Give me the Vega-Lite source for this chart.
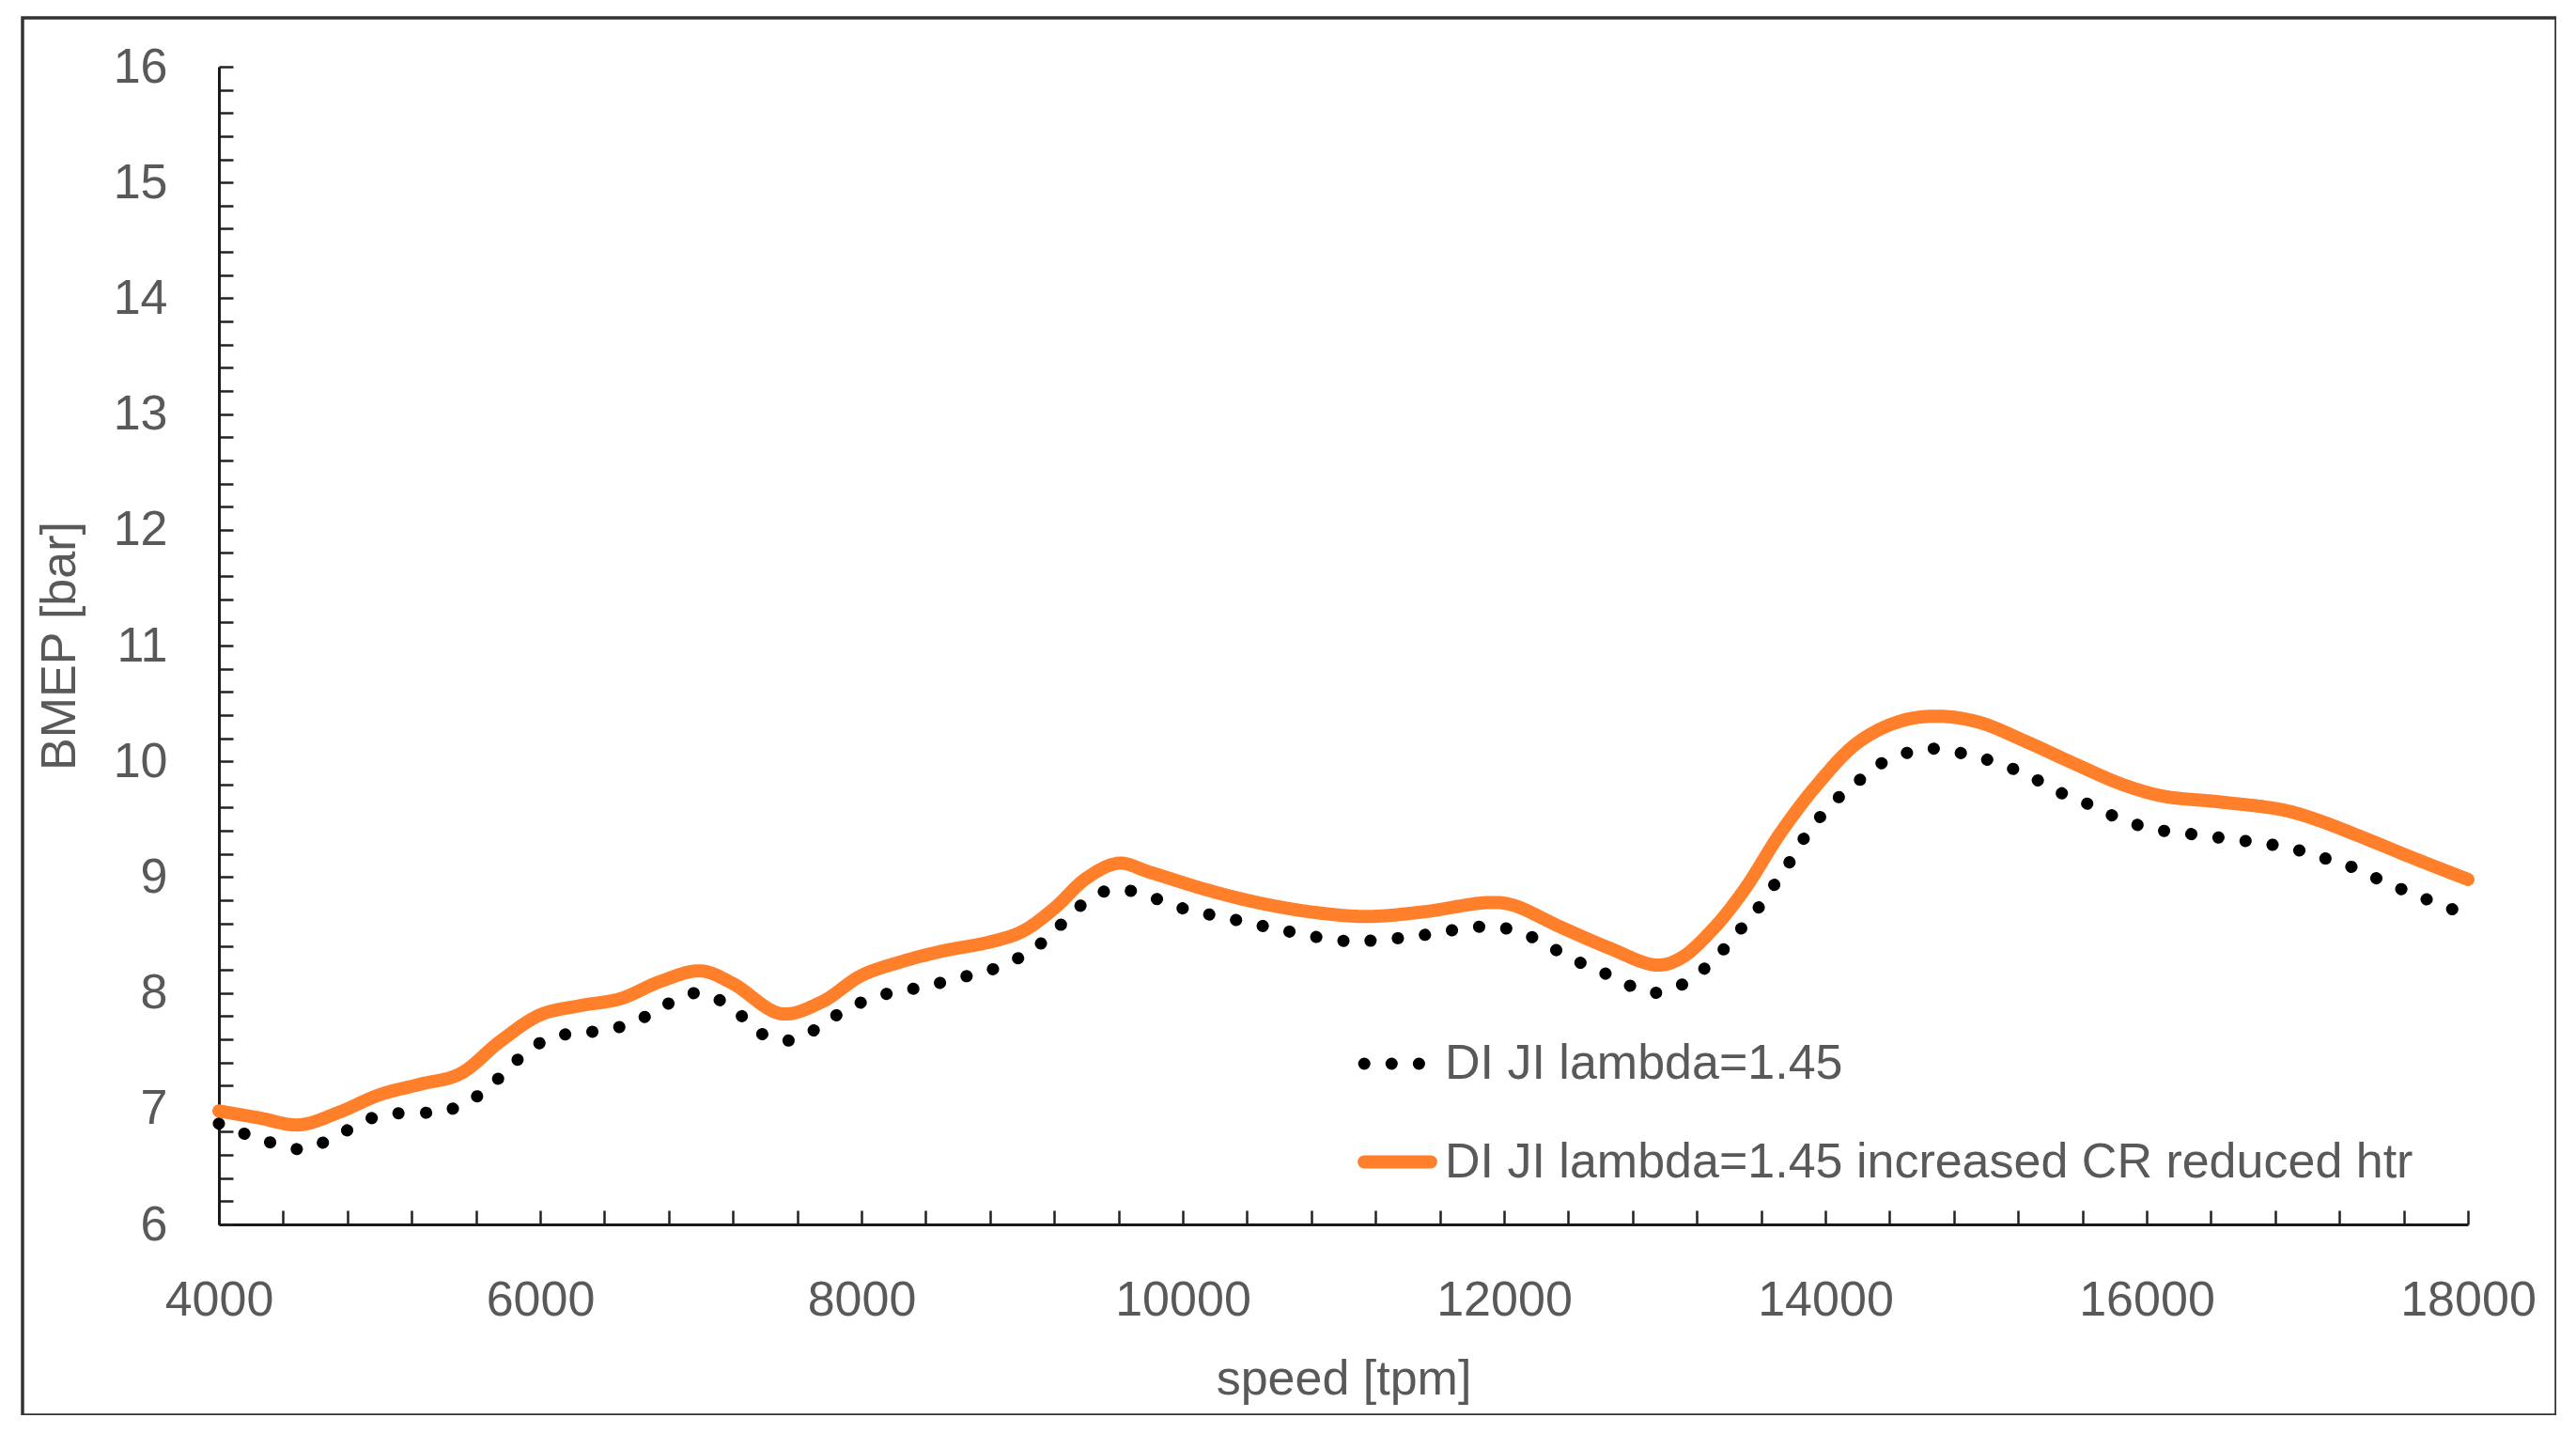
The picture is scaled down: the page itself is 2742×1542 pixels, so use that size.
{
  "$schema": "https://vega.github.io/schema/vega-lite/v6.json",
  "autosize": "none",
  "width": 2697,
  "height": 1487,
  "padding": {"left": 24, "top": 19, "right": 0, "bottom": 0},
  "background": "white",
  "data": {
    "values": [
      {"series": "DI JI lambda=1.45", "speed": 4000, "bmep": 6.87},
      {"series": "DI JI lambda=1.45", "speed": 4250, "bmep": 6.74},
      {"series": "DI JI lambda=1.45", "speed": 4530, "bmep": 6.65},
      {"series": "DI JI lambda=1.45", "speed": 4750, "bmep": 6.78},
      {"series": "DI JI lambda=1.45", "speed": 5000, "bmep": 6.94},
      {"series": "DI JI lambda=1.45", "speed": 5330, "bmep": 6.97},
      {"series": "DI JI lambda=1.45", "speed": 5500, "bmep": 7.02},
      {"series": "DI JI lambda=1.45", "speed": 5640, "bmep": 7.14},
      {"series": "DI JI lambda=1.45", "speed": 5770, "bmep": 7.3},
      {"series": "DI JI lambda=1.45", "speed": 5890, "bmep": 7.46},
      {"series": "DI JI lambda=1.45", "speed": 6030, "bmep": 7.59},
      {"series": "DI JI lambda=1.45", "speed": 6190, "bmep": 7.65},
      {"series": "DI JI lambda=1.45", "speed": 6360, "bmep": 7.67},
      {"series": "DI JI lambda=1.45", "speed": 6530, "bmep": 7.72},
      {"series": "DI JI lambda=1.45", "speed": 6690, "bmep": 7.82},
      {"series": "DI JI lambda=1.45", "speed": 6830, "bmep": 7.93},
      {"series": "DI JI lambda=1.45", "speed": 6980, "bmep": 8.0},
      {"series": "DI JI lambda=1.45", "speed": 7140, "bmep": 7.92},
      {"series": "DI JI lambda=1.45", "speed": 7280, "bmep": 7.77},
      {"series": "DI JI lambda=1.45", "speed": 7400, "bmep": 7.63},
      {"series": "DI JI lambda=1.45", "speed": 7560, "bmep": 7.59},
      {"series": "DI JI lambda=1.45", "speed": 7720, "bmep": 7.69},
      {"series": "DI JI lambda=1.45", "speed": 7860, "bmep": 7.82},
      {"series": "DI JI lambda=1.45", "speed": 8020, "bmep": 7.93},
      {"series": "DI JI lambda=1.45", "speed": 8180, "bmep": 8.0},
      {"series": "DI JI lambda=1.45", "speed": 8340, "bmep": 8.04},
      {"series": "DI JI lambda=1.45", "speed": 8500, "bmep": 8.09},
      {"series": "DI JI lambda=1.45", "speed": 8670, "bmep": 8.15},
      {"series": "DI JI lambda=1.45", "speed": 8830, "bmep": 8.21},
      {"series": "DI JI lambda=1.45", "speed": 8990, "bmep": 8.31},
      {"series": "DI JI lambda=1.45", "speed": 9120, "bmep": 8.43},
      {"series": "DI JI lambda=1.45", "speed": 9250, "bmep": 8.6},
      {"series": "DI JI lambda=1.45", "speed": 9370, "bmep": 8.76},
      {"series": "DI JI lambda=1.45", "speed": 9520, "bmep": 8.88},
      {"series": "DI JI lambda=1.45", "speed": 9680, "bmep": 8.88},
      {"series": "DI JI lambda=1.45", "speed": 9840, "bmep": 8.81},
      {"series": "DI JI lambda=1.45", "speed": 10000, "bmep": 8.73},
      {"series": "DI JI lambda=1.45", "speed": 10330, "bmep": 8.63},
      {"series": "DI JI lambda=1.45", "speed": 10660, "bmep": 8.53},
      {"series": "DI JI lambda=1.45", "speed": 10990, "bmep": 8.45},
      {"series": "DI JI lambda=1.45", "speed": 11160, "bmep": 8.45},
      {"series": "DI JI lambda=1.45", "speed": 11500, "bmep": 8.5},
      {"series": "DI JI lambda=1.45", "speed": 11830, "bmep": 8.57},
      {"series": "DI JI lambda=1.45", "speed": 12000, "bmep": 8.56},
      {"series": "DI JI lambda=1.45", "speed": 12160, "bmep": 8.49},
      {"series": "DI JI lambda=1.45", "speed": 12310, "bmep": 8.38},
      {"series": "DI JI lambda=1.45", "speed": 12460, "bmep": 8.27},
      {"series": "DI JI lambda=1.45", "speed": 12610, "bmep": 8.18},
      {"series": "DI JI lambda=1.45", "speed": 12770, "bmep": 8.07},
      {"series": "DI JI lambda=1.45", "speed": 12920, "bmep": 8.0},
      {"series": "DI JI lambda=1.45", "speed": 13090, "bmep": 8.06},
      {"series": "DI JI lambda=1.45", "speed": 13230, "bmep": 8.19},
      {"series": "DI JI lambda=1.45", "speed": 13350, "bmep": 8.35},
      {"series": "DI JI lambda=1.45", "speed": 13460, "bmep": 8.53},
      {"series": "DI JI lambda=1.45", "speed": 13570, "bmep": 8.71},
      {"series": "DI JI lambda=1.45", "speed": 13670, "bmep": 8.91},
      {"series": "DI JI lambda=1.45", "speed": 13760, "bmep": 9.09},
      {"series": "DI JI lambda=1.45", "speed": 13850, "bmep": 9.3},
      {"series": "DI JI lambda=1.45", "speed": 13950, "bmep": 9.49},
      {"series": "DI JI lambda=1.45", "speed": 14060, "bmep": 9.66},
      {"series": "DI JI lambda=1.45", "speed": 14190, "bmep": 9.81},
      {"series": "DI JI lambda=1.45", "speed": 14320, "bmep": 9.96},
      {"series": "DI JI lambda=1.45", "speed": 14480, "bmep": 10.06},
      {"series": "DI JI lambda=1.45", "speed": 14640, "bmep": 10.11},
      {"series": "DI JI lambda=1.45", "speed": 14810, "bmep": 10.08},
      {"series": "DI JI lambda=1.45", "speed": 14970, "bmep": 10.03},
      {"series": "DI JI lambda=1.45", "speed": 15140, "bmep": 9.95},
      {"series": "DI JI lambda=1.45", "speed": 15290, "bmep": 9.86},
      {"series": "DI JI lambda=1.45", "speed": 15430, "bmep": 9.75},
      {"series": "DI JI lambda=1.45", "speed": 15590, "bmep": 9.66},
      {"series": "DI JI lambda=1.45", "speed": 15740, "bmep": 9.56},
      {"series": "DI JI lambda=1.45", "speed": 15900, "bmep": 9.47},
      {"series": "DI JI lambda=1.45", "speed": 16060, "bmep": 9.41},
      {"series": "DI JI lambda=1.45", "speed": 16230, "bmep": 9.38},
      {"series": "DI JI lambda=1.45", "speed": 16400, "bmep": 9.35},
      {"series": "DI JI lambda=1.45", "speed": 16570, "bmep": 9.32},
      {"series": "DI JI lambda=1.45", "speed": 16730, "bmep": 9.29},
      {"series": "DI JI lambda=1.45", "speed": 16900, "bmep": 9.25},
      {"series": "DI JI lambda=1.45", "speed": 17060, "bmep": 9.18},
      {"series": "DI JI lambda=1.45", "speed": 17220, "bmep": 9.12},
      {"series": "DI JI lambda=1.45", "speed": 17380, "bmep": 9.02},
      {"series": "DI JI lambda=1.45", "speed": 17530, "bmep": 8.93},
      {"series": "DI JI lambda=1.45", "speed": 17680, "bmep": 8.84},
      {"series": "DI JI lambda=1.45", "speed": 17840, "bmep": 8.76},
      {"series": "DI JI lambda=1.45", "speed": 18000, "bmep": 8.66},
      {"series": "DI JI lambda=1.45 increased CR reduced htr", "speed": 4000, "bmep": 6.98},
      {"series": "DI JI lambda=1.45 increased CR reduced htr", "speed": 4250, "bmep": 6.92},
      {"series": "DI JI lambda=1.45 increased CR reduced htr", "speed": 4500, "bmep": 6.86},
      {"series": "DI JI lambda=1.45 increased CR reduced htr", "speed": 4750, "bmep": 6.97},
      {"series": "DI JI lambda=1.45 increased CR reduced htr", "speed": 5000, "bmep": 7.12},
      {"series": "DI JI lambda=1.45 increased CR reduced htr", "speed": 5250, "bmep": 7.21},
      {"series": "DI JI lambda=1.45 increased CR reduced htr", "speed": 5500, "bmep": 7.3},
      {"series": "DI JI lambda=1.45 increased CR reduced htr", "speed": 5750, "bmep": 7.58},
      {"series": "DI JI lambda=1.45 increased CR reduced htr", "speed": 6000, "bmep": 7.81},
      {"series": "DI JI lambda=1.45 increased CR reduced htr", "speed": 6250, "bmep": 7.89},
      {"series": "DI JI lambda=1.45 increased CR reduced htr", "speed": 6500, "bmep": 7.95},
      {"series": "DI JI lambda=1.45 increased CR reduced htr", "speed": 6750, "bmep": 8.1},
      {"series": "DI JI lambda=1.45 increased CR reduced htr", "speed": 7000, "bmep": 8.19},
      {"series": "DI JI lambda=1.45 increased CR reduced htr", "speed": 7200, "bmep": 8.08},
      {"series": "DI JI lambda=1.45 increased CR reduced htr", "speed": 7500, "bmep": 7.82},
      {"series": "DI JI lambda=1.45 increased CR reduced htr", "speed": 7750, "bmep": 7.92},
      {"series": "DI JI lambda=1.45 increased CR reduced htr", "speed": 8000, "bmep": 8.15},
      {"series": "DI JI lambda=1.45 increased CR reduced htr", "speed": 8250, "bmep": 8.27},
      {"series": "DI JI lambda=1.45 increased CR reduced htr", "speed": 8500, "bmep": 8.36},
      {"series": "DI JI lambda=1.45 increased CR reduced htr", "speed": 8800, "bmep": 8.44},
      {"series": "DI JI lambda=1.45 increased CR reduced htr", "speed": 9000, "bmep": 8.53},
      {"series": "DI JI lambda=1.45 increased CR reduced htr", "speed": 9200, "bmep": 8.73},
      {"series": "DI JI lambda=1.45 increased CR reduced htr", "speed": 9400, "bmep": 8.99},
      {"series": "DI JI lambda=1.45 increased CR reduced htr", "speed": 9600, "bmep": 9.12},
      {"series": "DI JI lambda=1.45 increased CR reduced htr", "speed": 9800, "bmep": 9.04},
      {"series": "DI JI lambda=1.45 increased CR reduced htr", "speed": 10150, "bmep": 8.89},
      {"series": "DI JI lambda=1.45 increased CR reduced htr", "speed": 10500, "bmep": 8.77},
      {"series": "DI JI lambda=1.45 increased CR reduced htr", "speed": 10850, "bmep": 8.69},
      {"series": "DI JI lambda=1.45 increased CR reduced htr", "speed": 11150, "bmep": 8.66},
      {"series": "DI JI lambda=1.45 increased CR reduced htr", "speed": 11500, "bmep": 8.7},
      {"series": "DI JI lambda=1.45 increased CR reduced htr", "speed": 11900, "bmep": 8.78},
      {"series": "DI JI lambda=1.45 increased CR reduced htr", "speed": 12050, "bmep": 8.76},
      {"series": "DI JI lambda=1.45 increased CR reduced htr", "speed": 12350, "bmep": 8.57},
      {"series": "DI JI lambda=1.45 increased CR reduced htr", "speed": 12650, "bmep": 8.39},
      {"series": "DI JI lambda=1.45 increased CR reduced htr", "speed": 12950, "bmep": 8.24},
      {"series": "DI JI lambda=1.45 increased CR reduced htr", "speed": 13100, "bmep": 8.3},
      {"series": "DI JI lambda=1.45 increased CR reduced htr", "speed": 13300, "bmep": 8.55},
      {"series": "DI JI lambda=1.45 increased CR reduced htr", "speed": 13500, "bmep": 8.9},
      {"series": "DI JI lambda=1.45 increased CR reduced htr", "speed": 13720, "bmep": 9.38},
      {"series": "DI JI lambda=1.45 increased CR reduced htr", "speed": 13950, "bmep": 9.8},
      {"series": "DI JI lambda=1.45 increased CR reduced htr", "speed": 14200, "bmep": 10.16},
      {"series": "DI JI lambda=1.45 increased CR reduced htr", "speed": 14450, "bmep": 10.34},
      {"series": "DI JI lambda=1.45 increased CR reduced htr", "speed": 14680, "bmep": 10.39},
      {"series": "DI JI lambda=1.45 increased CR reduced htr", "speed": 14950, "bmep": 10.34},
      {"series": "DI JI lambda=1.45 increased CR reduced htr", "speed": 15250, "bmep": 10.17},
      {"series": "DI JI lambda=1.45 increased CR reduced htr", "speed": 15550, "bmep": 9.98},
      {"series": "DI JI lambda=1.45 increased CR reduced htr", "speed": 15850, "bmep": 9.8},
      {"series": "DI JI lambda=1.45 increased CR reduced htr", "speed": 16100, "bmep": 9.7},
      {"series": "DI JI lambda=1.45 increased CR reduced htr", "speed": 16450, "bmep": 9.65},
      {"series": "DI JI lambda=1.45 increased CR reduced htr", "speed": 16850, "bmep": 9.58},
      {"series": "DI JI lambda=1.45 increased CR reduced htr", "speed": 17050, "bmep": 9.5},
      {"series": "DI JI lambda=1.45 increased CR reduced htr", "speed": 17350, "bmep": 9.34},
      {"series": "DI JI lambda=1.45 increased CR reduced htr", "speed": 17650, "bmep": 9.17},
      {"series": "DI JI lambda=1.45 increased CR reduced htr", "speed": 18000, "bmep": 8.98}
    ]
  },
  "mark": {"type": "line", "interpolate": "catmull-rom", "strokeCap": "round", "strokeJoin": "round"},
  "encoding": {
    "x": {
      "field": "speed",
      "type": "quantitative",
      "scale": {"domain": [4000, 18000], "range": [209, 2603], "nice": false, "zero": false},
      "axis": {
        "orient": "bottom",
        "offset": -203,
        "title": "speed [tpm]",
        "values": [4000, 4400, 4800, 5200, 5600, 6000, 6400, 6800, 7200, 7600, 8000, 8400, 8800, 9200, 9600, 10000, 10400, 10800, 11200, 11600, 12000, 12400, 12800, 13200, 13600, 14000, 14400, 14800, 15200, 15600, 16000, 16400, 16800, 17200, 17600, 18000],
        "labelExpr": "datum.value % 2000 === 0 ? datum.value + '' : ''",
        "labelPadding": 70,
        "titlePadding": 33
      }
    },
    "y": {
      "field": "bmep",
      "type": "quantitative",
      "scale": {"domain": [6, 16], "range": [1284, 52], "nice": false, "zero": false},
      "axis": {
        "orient": "left",
        "offset": -209,
        "title": "BMEP [bar]",
        "values": [6, 6.2, 6.4, 6.6, 6.8, 7, 7.2, 7.4, 7.6, 7.8, 8, 8.2, 8.4, 8.6, 8.8, 9, 9.2, 9.4, 9.6, 9.8, 10, 10.2, 10.4, 10.6, 10.8, 11, 11.2, 11.4, 11.6, 11.8, 12, 12.2, 12.4, 12.6, 12.8, 13, 13.2, 13.4, 13.6, 13.8, 14, 14.2, 14.4, 14.6, 14.8, 15, 15.2, 15.4, 15.6, 15.8, 16],
        "labelExpr": "abs(datum.value - round(datum.value)) < 0.001 ? round(datum.value) + '' : ''",
        "labelPadding": 70,
        "titlePadding": 30
      }
    },
    "color": {
      "field": "series",
      "type": "nominal",
      "scale": {
        "domain": ["DI JI lambda=1.45", "DI JI lambda=1.45 increased CR reduced htr"],
        "range": ["#000000", "#FF7F2A"]
      },
      "legend": {
        "orient": "none",
        "legendX": 1421,
        "legendY": 1071,
        "title": null,
        "padding": 0,
        "symbolType": "stroke",
        "symbolSize": 5000,
        "symbolStrokeWidth": 13,
        "rowPadding": 36,
        "labelOffset": 8,
        "labelFontSize": 52,
        "labelColor": "#595959",
        "labelLimit": 2000,
        "encode": {"symbols": {"update": {"strokeCap": {"value": "round"}}}}
      }
    },
    "strokeDash": {
      "field": "series",
      "type": "nominal",
      "scale": {
        "domain": ["DI JI lambda=1.45", "DI JI lambda=1.45 increased CR reduced htr"],
        "range": [[0.1, 29], [1, 0]]
      }
    },
    "strokeWidth": {
      "field": "series",
      "type": "nominal",
      "scale": {
        "domain": ["DI JI lambda=1.45", "DI JI lambda=1.45 increased CR reduced htr"],
        "range": [13, 14]
      },
      "legend": null
    }
  },
  "config": {
    "font": "Liberation Sans",
    "view": {"stroke": "#333333", "strokeWidth": 3.5},
    "axis": {
      "grid": false,
      "domainColor": "#1a1a1a",
      "domainWidth": 3,
      "tickColor": "#222222",
      "tickWidth": 2.5,
      "tickSize": -15,
      "labelFontSize": 52,
      "labelColor": "#595959",
      "labelOverlap": false,
      "labelFlush": false,
      "labelBound": false,
      "titleFontSize": 52,
      "titleFontWeight": "normal",
      "titleColor": "#595959"
    }
  }
}
